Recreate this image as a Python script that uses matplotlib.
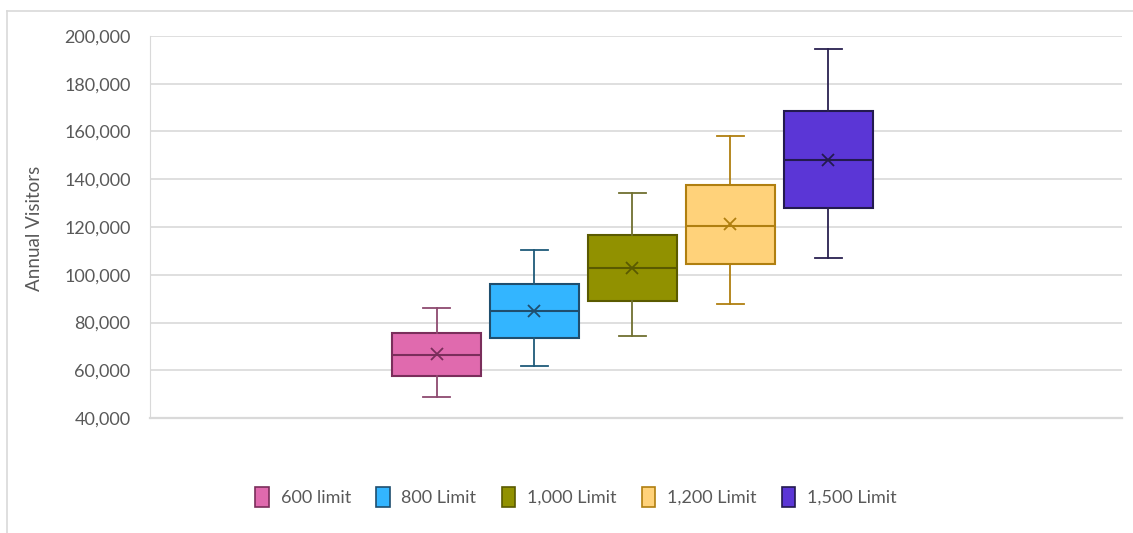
import matplotlib.pyplot as plt
from matplotlib.lines import Line2D
from matplotlib.patches import Patch
from matplotlib.ticker import FuncFormatter

plt.rcParams["font.family"] = ["Lato", "DejaVu Sans"]

# five-number summaries + mean for each limit scenario
labels = ["600 limit", "800 Limit", "1,000 Limit", "1,200 Limit", "1,500 Limit"]
whisker_low = [48700, 61800, 74300, 87600, 106900]
q1 = [57700, 73400, 89000, 104500, 128100]
median = [66500, 84800, 102700, 120500, 148100]
q3 = [75500, 96100, 116600, 137500, 168600]
whisker_high = [86200, 110400, 134100, 158100, 194400]
mean = [66800, 84800, 102800, 121100, 148100]

fill_colors = ["#E06AAE", "#33B5FF", "#919100", "#FFD27A", "#5B36D6"]
edge_colors = ["#7A2E5B", "#1F4E6E", "#5A5A00", "#B07F10", "#231A4F"]
whisker_colors = ["#8E4A70", "#1F5A7A", "#707030", "#B07F10", "#2A2150"]

text_color = "#595959"
grid_color = "#D9D9D9"

stats = []
for i in range(len(labels)):
    stats.append({
        "label": labels[i],
        "whislo": whisker_low[i],
        "q1": q1[i],
        "med": median[i],
        "q3": q3[i],
        "whishi": whisker_high[i],
        "mean": mean[i],
        "fliers": [],
    })

fig = plt.figure(figsize=(11.33, 5.33), dpi=100)
ax = fig.add_axes([150 / 1133, 115 / 533, 972 / 1133, 382 / 533])

positions = list(range(1, len(labels) + 1))
parts = ax.bxp(stats, positions=positions, widths=0.9, capwidths=0.27,
               patch_artist=True, showmeans=True, zorder=3)

for i in range(len(labels)):
    box = parts["boxes"][i]
    box.set_facecolor(fill_colors[i])
    box.set_edgecolor(edge_colors[i])
    box.set_linewidth(1.5)
    parts["medians"][i].set_color(edge_colors[i])
    parts["medians"][i].set_linewidth(1.5)
    for k in (2 * i, 2 * i + 1):
        parts["whiskers"][k].set_color(whisker_colors[i])
        parts["whiskers"][k].set_linewidth(1.3)
        parts["caps"][k].set_color(whisker_colors[i])
        parts["caps"][k].set_linewidth(1.3)
    m = parts["means"][i]
    m.set_marker("x")
    m.set_markersize(9)
    m.set_markeredgewidth(1.3)
    m.set_markeredgecolor(edge_colors[i])
    m.set_markerfacecolor("none")

ax.set_xlim(3.036 - 4.96, 3.036 + 4.96)
ax.set_ylim(40000, 200000)
ax.set_yticks(range(40000, 200001, 20000))
ax.yaxis.set_major_formatter(FuncFormatter(lambda v, p: f"{int(v):,}"))
ax.set_xticks([])

ax.grid(axis="y", color=grid_color, linewidth=1.2, zorder=0)
ax.set_axisbelow(True)
for side in ["top", "right"]:
    ax.spines[side].set_visible(False)
ax.spines["left"].set_color(grid_color)
ax.spines["bottom"].set_color(grid_color)
ax.spines["bottom"].set_linewidth(1.6)
ax.tick_params(axis="y", length=0, pad=14, labelsize=13, labelcolor=text_color)

fig.text(34 / 1133, 1 - 228 / 533, "Annual Visitors", rotation=90,
         ha="center", va="center", fontsize=13.5, color=text_color)

handles = [Patch(facecolor=fill_colors[i], edgecolor=edge_colors[i],
                 linewidth=1.2, label=labels[i]) for i in range(len(labels))]
fig.legend(handles=handles, loc="center", ncol=5, frameon=False,
           bbox_to_anchor=(576 / 1133, 1 - 497 / 533), fontsize=13,
           labelcolor=text_color, handlelength=0.75, handleheight=1.25,
           handletextpad=0.65, columnspacing=1.4)

# chart area border (top and left edges)
fig.add_artist(Line2D([7 / 1133, 7 / 1133], [0, 1 - 11 / 533],
                      transform=fig.transFigure, color=grid_color, linewidth=1.2))
fig.add_artist(Line2D([7 / 1133, 1], [1 - 11 / 533, 1 - 11 / 533],
                      transform=fig.transFigure, color=grid_color, linewidth=1.2))

fig.savefig("out.png", dpi=100)
plt.close(fig)
